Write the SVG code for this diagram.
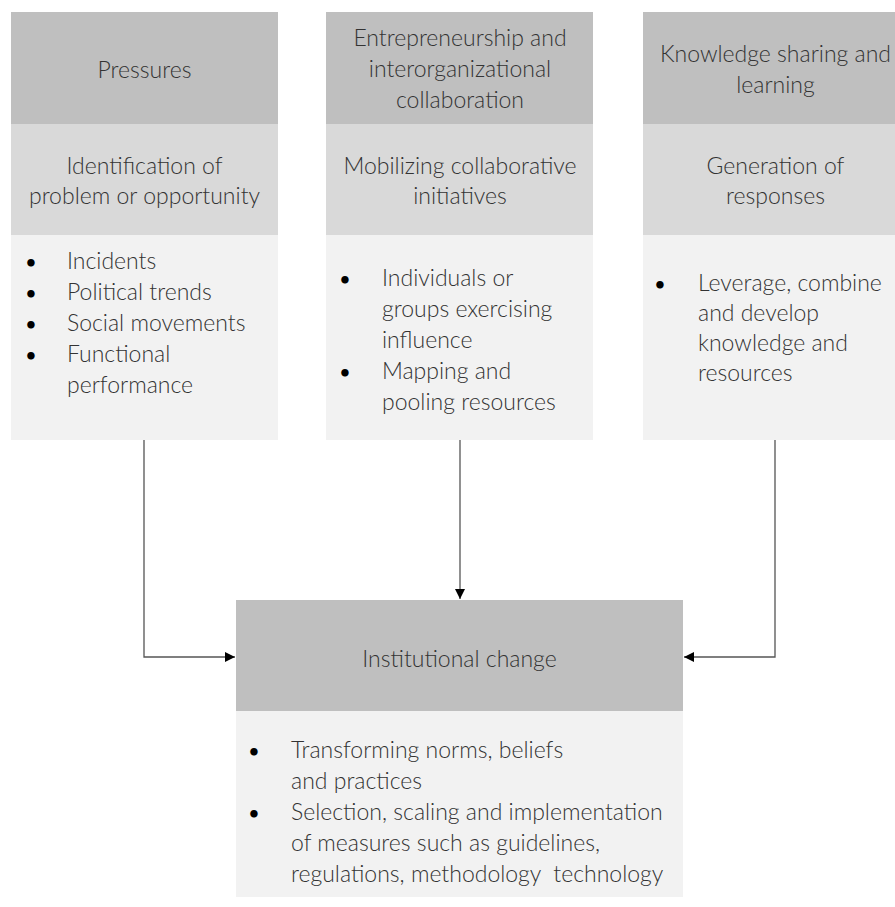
<svg xmlns="http://www.w3.org/2000/svg" width="895" height="907" viewBox="0 0 895 907">
<style>
.h{fill:#bfbfbf}
.m{fill:#d9d9d9}
.l{fill:#f2f2f2}
text{font-family:Lato,"Open Sans","Liberation Sans",sans-serif;font-weight:300;font-size:23px;fill:#333}
.c{text-anchor:middle}
.b{font-weight:700;font-size:17px;fill:#000}
.pre{white-space:pre}
.conn{fill:none;stroke:#555;stroke-width:1.3}
</style>
<defs>
<marker id="arr" viewBox="0 0 10 10" refX="10" refY="5" markerWidth="11" markerHeight="10" markerUnits="userSpaceOnUse" orient="auto">
<path d="M0,0 L10,5 L0,10 z" fill="#000"/>
</marker>
</defs>
<rect width="895" height="907" fill="#fff"/>
<g id="connectors">
<path class="conn" d="M144,440 V657 H235" marker-end="url(#arr)"/>
<path class="conn" d="M460,440 V599" marker-end="url(#arr)"/>
<path class="conn" d="M775,440 V657 H684" marker-end="url(#arr)"/>
</g>
<g id="pressures">
<rect class="h" x="11" y="12" width="267" height="112"/>
<rect class="m" x="11" y="124" width="267" height="111"/>
<rect class="l" x="11" y="235" width="267" height="205"/>
<text class="c" x="144.5" y="78">Pressures</text>
<text class="c" x="144.5" y="174">Identification of</text>
<text class="c" x="144.5" y="204">problem or opportunity</text>
<text class="b" x="26" y="268">•</text>
<text x="67" y="269">Incidents</text>
<text class="b" x="26" y="299">•</text>
<text x="67" y="300">Political trends</text>
<text class="b" x="26" y="330">•</text>
<text x="67" y="331">Social movements</text>
<text class="b" x="26" y="361">•</text>
<text x="67" y="362">Functional</text>
<text x="67" y="393">performance</text>
</g>
<g id="entrepreneurship">
<rect class="h" x="326" y="12" width="267" height="112"/>
<rect class="m" x="326" y="124" width="267" height="111"/>
<rect class="l" x="326" y="235" width="267" height="205"/>
<text class="c" x="460" y="46">Entrepreneurship and</text>
<text class="c" x="460" y="77">interorganizational</text>
<text class="c" x="460" y="108">collaboration</text>
<text class="c" x="460" y="174">Mobilizing collaborative</text>
<text class="c" x="460" y="204">initiatives</text>
<text class="b" x="340" y="285">•</text>
<text x="382" y="286">Individuals or</text>
<text x="382" y="317">groups exercising</text>
<text x="382" y="348">influence</text>
<text class="b" x="340" y="378">•</text>
<text x="382" y="379">Mapping and</text>
<text x="382" y="410">pooling resources</text>
</g>
<g id="knowledge">
<rect class="h" x="643" y="12" width="267" height="112"/>
<rect class="m" x="643" y="124" width="267" height="111"/>
<rect class="l" x="643" y="235" width="267" height="205"/>
<text class="c" x="775.5" y="62">Knowledge sharing and</text>
<text class="c" x="775.5" y="93">learning</text>
<text class="c" x="775.5" y="174">Generation of</text>
<text class="c" x="775.5" y="204">responses</text>
<text class="b" x="655" y="290">•</text>
<text x="698" y="291">Leverage, combine</text>
<text x="698" y="321">and develop</text>
<text x="698" y="351">knowledge and</text>
<text x="698" y="381">resources</text>
</g>
<g id="institutional-change">
<rect class="h" x="236" y="600" width="447" height="111"/>
<rect class="l" x="236" y="711" width="447" height="186"/>
<text class="c" x="459.5" y="667">Institutional change</text>
<text class="b" x="249" y="757">•</text>
<text x="291" y="758">Transforming norms, beliefs</text>
<text x="291" y="789">and practices</text>
<text class="b" x="249" y="819">•</text>
<text x="291" y="820">Selection, scaling and implementation</text>
<text x="291" y="851">of measures such as guidelines,</text>
<text class="pre" x="291" y="882">regulations, methodology  technology</text>
</g>
</svg>
